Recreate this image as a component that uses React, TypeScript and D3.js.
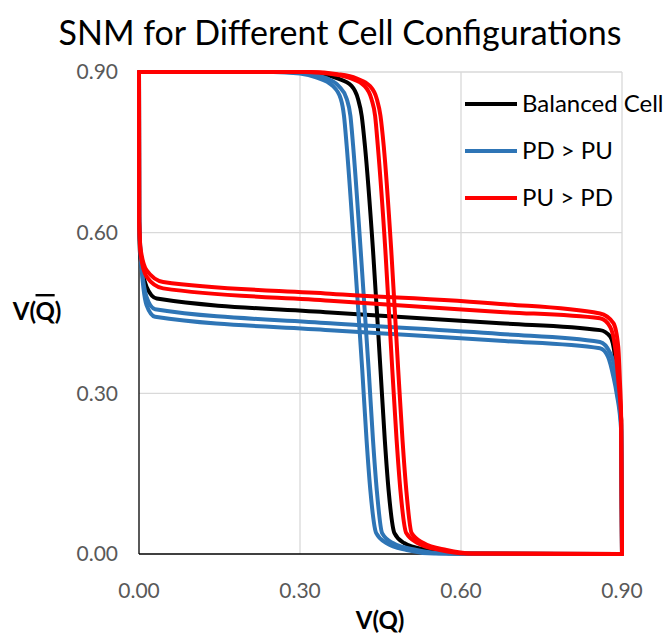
import React from 'react'
import * as d3 from 'd3'

// butterfly curves, [V(Q), V(Qbar)] pairs
const balancedVtc1 = [[0, 0.9], [0.29, 0.9], [0.34, 0.896], [0.37, 0.888], [0.396, 0.874], [0.408, 0.85], [0.415, 0.818], [0.421, 0.762], [0.436, 0.568], [0.45, 0.344], [0.458, 0.213], [0.465, 0.12], [0.476, 0.039], [0.494, 0.0205], [0.536, 0.0075], [0.59, 0.001], [0.9, 0]]
const balancedVtc2 = [[0, 0.9], [0.0004, 0.62], [0.002, 0.56], [0.014, 0.499], [0.033, 0.477], [0.356, 0.451], [0.673, 0.431], [0.859, 0.418], [0.878, 0.406], [0.887, 0.368], [0.891, 0.325], [0.8985, 0.25], [0.9, 0]]

const pdVtc1a = [[0, 0.9], [0.25, 0.9], [0.3, 0.897], [0.33, 0.89], [0.361, 0.874], [0.376, 0.85], [0.382, 0.818], [0.387, 0.762], [0.401, 0.568], [0.416, 0.344], [0.424, 0.213], [0.431, 0.12], [0.442, 0.039], [0.461, 0.0205], [0.499, 0.0075], [0.55, 0.001], [0.9, 0]]
const pdVtc1b = [[0, 0.9], [0.27, 0.9], [0.32, 0.896], [0.35, 0.888], [0.372, 0.874], [0.387, 0.85], [0.394, 0.818], [0.399, 0.762], [0.413, 0.568], [0.428, 0.344], [0.436, 0.213], [0.443, 0.12], [0.453, 0.039], [0.473, 0.0205], [0.517, 0.0075], [0.57, 0.001], [0.9, 0]]
const pdVtc2a = [[0, 0.9], [0.0004, 0.63], [0.002, 0.575], [0.014, 0.48], [0.03, 0.457], [0.356, 0.431], [0.673, 0.411], [0.859, 0.396], [0.878, 0.375], [0.887, 0.344], [0.891, 0.306], [0.8985, 0.24], [0.9, 0]]
const pdVtc2b = [[0, 0.9], [0.0004, 0.63], [0.002, 0.58], [0.014, 0.465], [0.03, 0.443], [0.356, 0.418], [0.673, 0.398], [0.859, 0.384], [0.874, 0.368], [0.884, 0.331], [0.89, 0.3], [0.8985, 0.23], [0.9, 0]]

const puVtc1a = [[0, 0.9], [0.31, 0.9], [0.36, 0.896], [0.395, 0.888], [0.42, 0.874], [0.433, 0.85], [0.44, 0.818], [0.445, 0.762], [0.459, 0.568], [0.472, 0.344], [0.48, 0.213], [0.487, 0.12], [0.498, 0.039], [0.519, 0.0205], [0.561, 0.0075], [0.61, 0.001], [0.9, 0]]
const puVtc1b = [[0, 0.9], [0.32, 0.9], [0.37, 0.896], [0.405, 0.888], [0.43, 0.874], [0.443, 0.85], [0.45, 0.818], [0.456, 0.762], [0.47, 0.568], [0.483, 0.344], [0.491, 0.213], [0.498, 0.12], [0.508, 0.039], [0.53, 0.0205], [0.573, 0.0075], [0.62, 0.001], [0.9, 0]]
const puVtc2a = [[0, 0.9], [0.0004, 0.62], [0.003, 0.56], [0.014, 0.518], [0.045, 0.496], [0.356, 0.473], [0.673, 0.452], [0.859, 0.44], [0.878, 0.424], [0.887, 0.387], [0.893, 0.325], [0.8985, 0.25], [0.9, 0]]
const puVtc2b = [[0, 0.9], [0.0004, 0.62], [0.003, 0.57], [0.014, 0.53], [0.045, 0.508], [0.356, 0.486], [0.673, 0.467], [0.859, 0.449], [0.884, 0.431], [0.893, 0.387], [0.896, 0.325], [0.8985, 0.25], [0.9, 0]]

const seriesNames = ['Balanced Cell', 'PD > PU', 'PU > PD']
const seriesColors = ['#000000', '#2e75b6', '#ff0000']
const seriesCurves = [
  [balancedVtc1, balancedVtc2],
  [pdVtc1a, pdVtc1b, pdVtc2a, pdVtc2b],
  [puVtc1a, puVtc1b, puVtc2a, puVtc2b],
]
const tickValues = [0, 0.3, 0.6, 0.9]

export default function App() {
  const width = 664
  const height = 637
  const margin = {top: 72, right: 42, bottom: 83, left: 139}
  const font = 'Lato, "Open Sans", sans-serif'

  const x = d3.scaleLinear().domain([0, 0.9]).range([margin.left, width - margin.right])
  const y = d3.scaleLinear().domain([0, 0.9]).range([height - margin.bottom, margin.top])
  const line = d3.line()
    .x(d => x(d[0]))
    .y(d => y(d[1]))
    .curve(d3.curveMonotoneX)

  return (
    <svg width={width} height={height} style={{position: 'absolute', left: 0, top: 0, background: '#fff'}}>
      <text x={340} y={45} textAnchor="middle" fontFamily={font} fontSize={34} fill="#000">
        SNM for Different Cell Configurations
      </text>

      {/* gridlines */}
      {tickValues.filter(t => t > 0).map(t => (
        <g key={'g' + t} stroke="#d9d9d9" strokeWidth={1.3}>
          <line x1={x(t)} x2={x(t)} y1={y(0)} y2={y(0.9)} />
          <line x1={x(0)} x2={x(0.9)} y1={y(t)} y2={y(t)} />
        </g>
      ))}

      {/* axes */}
      <line x1={x(0)} x2={x(0)} y1={y(0)} y2={y(0.9)} stroke="#000" strokeWidth={1.3} />
      <line x1={x(0)} x2={x(0.9)} y1={y(0)} y2={y(0)} stroke="#000" strokeWidth={1.3} />

      {tickValues.map(t => (
        <text key={'x' + t} x={x(t)} y={598} textAnchor="middle" fontFamily={font} fontSize={21} fill="#595959">
          {d3.format('.2f')(t)}
        </text>
      ))}
      {tickValues.map(t => (
        <text key={'y' + t} x={118} y={y(t)} dy="0.35em" textAnchor="end" fontFamily={font} fontSize={21} fill="#595959">
          {d3.format('.2f')(t)}
        </text>
      ))}

      <text x={380} y={629} textAnchor="middle" fontFamily={font} fontSize={24} fontWeight="bold" fill="#000">V(Q)</text>
      <text x={37} y={320} textAnchor="middle" fontFamily={font} fontSize={24} fontWeight="bold" fill="#000">
        V(<tspan style={{textDecoration: 'overline'}}>Q</tspan>)
      </text>

      {/* curves */}
      {seriesCurves.map((curves, i) => (
        <g key={'s' + i} fill="none" stroke={seriesColors[i]} strokeWidth={4} strokeLinejoin="round" strokeLinecap="round">
          {curves.map((c, j) => <path key={j} d={line(c)} />)}
        </g>
      ))}

      {/* legend */}
      {seriesNames.map((name, i) => (
        <g key={name} transform={`translate(465,${104 + i * 47})`}>
          <line x1={0} x2={52} y1={0} y2={0} stroke={seriesColors[i]} strokeWidth={4} />
          <text x={57} y={0} dy="0.35em" fontFamily={font} fontSize={24} fill="#000">{name}</text>
        </g>
      ))}
    </svg>
  )
}
